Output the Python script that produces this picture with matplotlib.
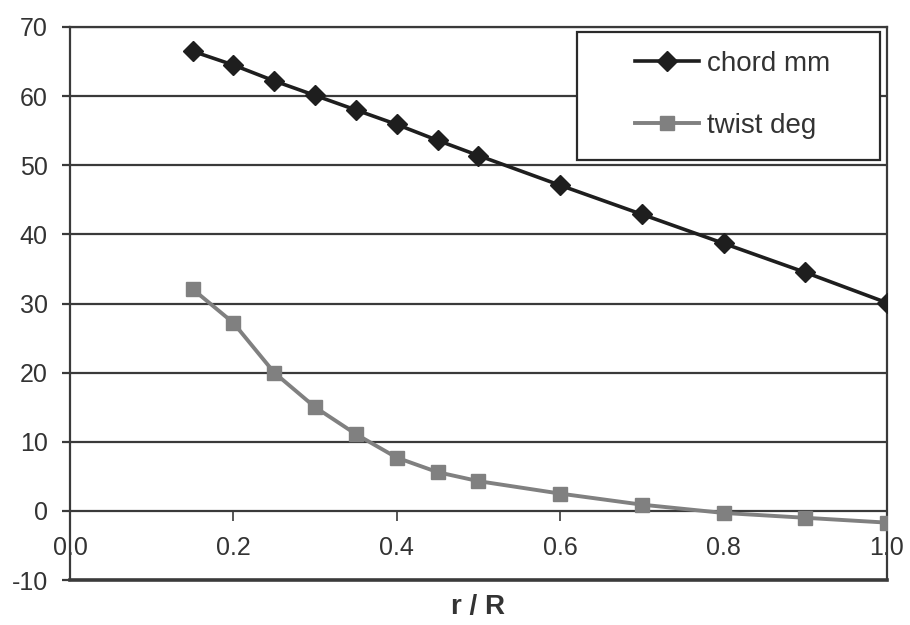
import matplotlib.pyplot as plt
from matplotlib.patches import Rectangle

plt.rcParams['font.family'] = ['Liberation Sans', 'DejaVu Sans']
plt.rcParams['axes.unicode_minus'] = False

# data
r_R = [0.15, 0.2, 0.25, 0.3, 0.35, 0.4, 0.45, 0.5, 0.6, 0.7, 0.8, 0.9, 1.0]
chord_mm = [66.5, 64.5, 62.2, 60.1, 58.0, 55.9, 53.6, 51.4, 47.1, 42.9, 38.7, 34.5, 30.1]
twist_deg = [32.1, 27.2, 20.0, 15.0, 11.1, 7.7, 5.6, 4.3, 2.5, 0.9, -0.3, -1.0, -1.7]
x_ticks = [0.0, 0.2, 0.4, 0.6, 0.8, 1.0]
y_ticks = [-10, 0, 10, 20, 30, 40, 50, 60, 70]

fig = plt.figure(figsize=(9.1, 6.25), dpi=100)
ax = fig.add_axes([0.0769, 0.072, 0.8978, 0.8848])

ax.set_xlim(0, 1)
ax.set_ylim(-10, 70)

# horizontal grid like excel
for y in y_ticks[1:]:
    ax.axhline(y, color='#3a3a3a', lw=1.6, zorder=1)

ax.plot(r_R, chord_mm, color='#1e1e1e', lw=2.6, marker='D', ms=10.5,
        label='chord mm', zorder=3)
ax.plot(r_R, twist_deg, color='#808080', lw=2.8, marker='s', ms=10.5,
        label='twist deg', zorder=3)

# x axis sits on y = 0
ax.spines['bottom'].set_position(('data', 0))
ax.spines['bottom'].set_color('#3a3a3a')
ax.spines['bottom'].set_linewidth(1.2)
for side in ['top', 'left', 'right']:
    ax.spines[side].set_color('#3a3a3a')
    ax.spines[side].set_linewidth(1.6)
ax.axhline(-10, color='#3a3a3a', lw=2.6, clip_on=False, zorder=2)

ax.set_xticks(x_ticks)
ax.set_xticklabels([f'{v:.1f}' for v in x_ticks])
ax.set_yticks(y_ticks)
ax.tick_params(axis='x', direction='out', length=7, width=1.2, pad=11,
               labelsize=18, colors='#3a3a3a', labelcolor='#333333')
ax.tick_params(axis='y', direction='out', length=6, width=1.6, pad=10,
               labelsize=18, colors='#3a3a3a', labelcolor='#333333')

ax.set_xlabel('r / R', fontsize=20, fontweight='bold', color='#333333', labelpad=0)
ax.xaxis.set_label_coords(0.50, -0.025)

# legend box
box = Rectangle((0.62, 0.759), 0.371, 0.232, transform=ax.transAxes,
                facecolor='white', edgecolor='#2a2a2a', lw=1.6, zorder=4)
ax.add_patch(box)
leg = ax.legend(loc='center', bbox_to_anchor=(0.8115, 0.877), frameon=False,
                fontsize=20, handlelength=2.3, handletextpad=0.3, labelspacing=1.3)
leg.set_zorder(5)
for t in leg.get_texts():
    t.set_color('#333333')

fig.savefig('out.png', dpi=100, facecolor='white')
